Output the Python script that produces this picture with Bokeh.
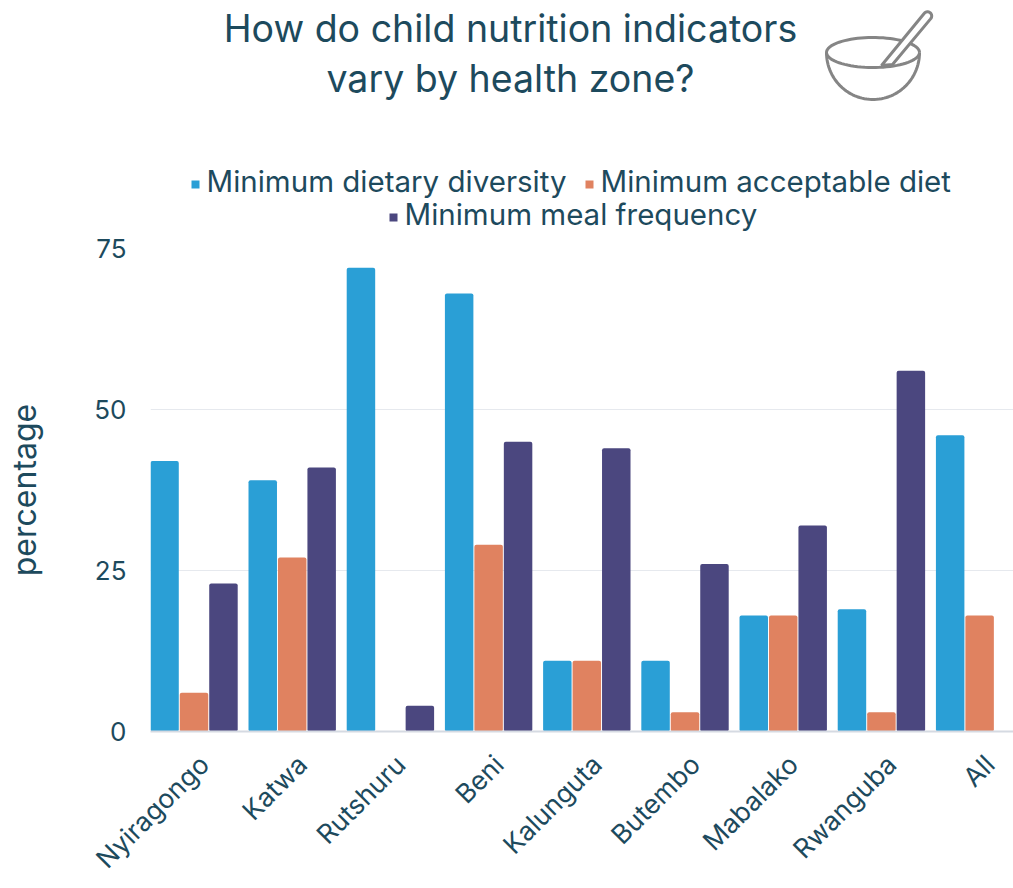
import numpy as np
from bokeh.core.properties import value
from bokeh.embed import file_html
from bokeh.layouts import column
from bokeh.models import FixedTicker, Range1d
from bokeh.plotting import figure
from bokeh.resources import INLINE

zones = ["Nyiragongo", "Katwa", "Rutshuru", "Beni", "Kalunguta", "Butembo", "Mabalako", "Rwanguba", "All"]
dietary_diversity = [42, 39, 72, 68, 11, 11, 18, 19, 46]
acceptable_diet = [6, 27, 0, 29, 11, 3, 18, 3, 18]
meal_frequency = [23, 41, 4, 45, 44, 26, 32, 56, float("nan")]
y_ticks = [0, 25, 50, 75]
heading_lines = ["How do child nutrition indicators", "vary by health zone?"]
series_names = ["Minimum dietary diversity", "Minimum acceptable diet", "Minimum meal frequency"]

INK = "#1d4a5d"
BLUE = "#2a9fd6"
ORANGE = "#e08260"
PURPLE = "#4b477f"
ICON = "#858585"
FONT = "Inter"

W, H = 1013, 888
HEADER_H = 232
TOP_GAP = 16
LEFT = 150

# Header strip: heading, legend and icon, laid out in pixels (y grows downward).
# The column lines up both frames, so this frame also starts at LEFT.
head = figure(width=W, height=HEADER_H, output_backend="svg", toolbar_location=None,
              x_range=Range1d(LEFT, W), y_range=Range1d(HEADER_H, 0),
              min_border_left=LEFT, min_border_right=0, min_border_top=0, min_border_bottom=0)
head.axis.visible = False
head.grid.visible = False
head.outline_line_color = None

head.text(x=[510, 510], y=[28, 78], text=heading_lines, text_align="center", text_baseline="middle",
          text_font=value(FONT), text_font_size="37.5px", text_color=INK)

head.rect(x=[195, 589, 393], y=[184, 184, 217], width=8, height=8,
          fill_color=[BLUE, ORANGE, PURPLE], line_color=None)
head.text(x=[206, 600, 404], y=[180, 180, 213], text=series_names, text_align="left", text_baseline="middle",
          text_font=value(FONT), text_font_size="29.5px", text_color=INK)

t = np.linspace(0, 2 * np.pi, 80)
head.line(872.5 + 46.5 * np.cos(t), 52 + 15 * np.sin(t), line_color=ICON, line_width=3)
t = np.linspace(0, np.pi, 60)
head.line(872.5 + 46.5 * np.cos(t), 52 + 47 * np.sin(t), line_color=ICON, line_width=3)
t = np.linspace(-2.5, 0.75, 20)
spoon_x = np.concatenate(([881], 927 + 4.2 * np.cos(t), [892]))
spoon_y = np.concatenate(([65], 15.5 + 4.2 * np.sin(t), [64]))
head.patch(spoon_x, spoon_y, fill_color="white", line_color=ICON, line_width=3)

# Grouped bars.
p = figure(width=W, height=H - HEADER_H, output_backend="svg", toolbar_location=None,
           x_range=Range1d(-0.443, 8.345), y_range=Range1d(0, 75),
           min_border_left=LEFT, min_border_right=0, min_border_top=TOP_GAP, min_border_bottom=157)
p.outline_line_color = None
p.xgrid.visible = False
p.ygrid.grid_line_color = "#e6e9ee"
p.ygrid.grid_line_width = 1
p.yaxis.ticker = FixedTicker(ticks=y_ticks)
p.yaxis.axis_line_color = None
p.yaxis.major_tick_line_color = None
p.yaxis.minor_tick_line_color = None
p.yaxis.major_label_text_font = FONT
p.yaxis.major_label_text_font_size = "26px"
p.yaxis.major_label_text_color = INK
p.yaxis.major_label_standoff = 18
p.yaxis.axis_label = "percentage"
p.yaxis.axis_label_text_font = FONT
p.yaxis.axis_label_text_font_style = "normal"
p.yaxis.axis_label_text_font_size = "32px"
p.yaxis.axis_label_text_color = INK
p.yaxis.axis_label_standoff = 47

xs = np.arange(len(zones))
label_ticks = [i + 0.1 for i in range(len(zones))]
p.xaxis.ticker = FixedTicker(ticks=label_ticks)
p.xaxis.major_label_overrides = {t: z for t, z in zip(label_ticks, zones)}
p.xaxis.major_label_orientation = np.pi / 4
p.xaxis.major_label_text_font = FONT
p.xaxis.major_label_text_font_size = "26.5px"
p.xaxis.major_label_text_color = INK
p.xaxis.major_label_standoff = 22
p.xaxis.axis_line_color = "#d5dae2"
p.xaxis.axis_line_width = 2
p.xaxis.major_tick_line_color = None
p.xaxis.minor_tick_line_color = None

BAR = 0.29
OFFSET = 0.30
bar_style = dict(width=BAR, bottom=0, line_color=None, border_radius=2)
p.vbar(x=xs - OFFSET, top=dietary_diversity, fill_color=BLUE, **bar_style)
p.vbar(x=xs, top=acceptable_diet, fill_color=ORANGE, **bar_style)
p.vbar(x=xs + OFFSET, top=meal_frequency, fill_color=PURPLE, **bar_style)

open("out.html", "w").write(file_html(column(head, p), INLINE))
